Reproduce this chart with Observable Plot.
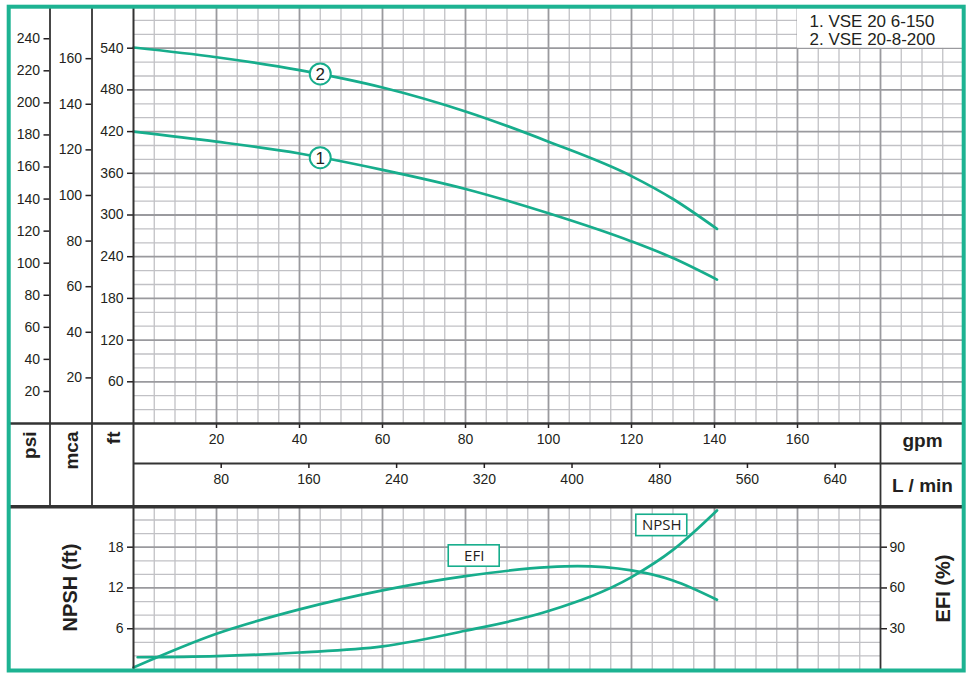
<!DOCTYPE html>
<html><head><meta charset="utf-8">
<script src="https://cdn.jsdelivr.net/npm/d3@7"></script>
<script src="https://cdn.jsdelivr.net/npm/@observablehq/plot@0.6"></script>
<style>
html,body{margin:0;padding:0;background:#fff;}
#chart{position:relative;width:970px;height:677px;overflow:hidden;}
#chart svg{position:absolute;left:0;top:0;}
</style></head><body><div id="chart"></div>
<script>
// ---------------- data ----------------
const flowGpm = [0, 20, 40, 60, 80, 100, 120, 130, 140.6];
const head1Ft = [420, 405.5, 388.5, 365, 337.5, 302.5, 262, 238, 207];
const head2Ft = [541, 527, 508.5, 483.5, 449, 405.5, 356, 323, 280];
const effGpm = [0, 20, 40, 60, 80, 100, 107, 120, 130, 140.6];
const effPct = [1.5, 26.3, 44.2, 58.2, 68.7, 75.3, 76, 72.9, 65.5, 51.3];
const npshGpm = [1, 20, 40, 60, 80, 100, 120, 130, 140.6];
const npshFt = [1.8, 1.97, 2.5, 3.4, 5.7, 8.6, 13.6, 17.6, 23.4];
const models = ["1. VSE 20 6-150", "2. VSE 20-8-200"];
const curveTags = ["1", "2"];
const tagGpm = [45, 45];
const tagFt = [382.5, 503];
const boxLabels = ["EFI", "NPSH"];
const boxGpm = [82.1, 127.3];
const boxVal = [83.5, 21.2]; // EFI in %, NPSH in ft
const ftTicks = [60, 120, 180, 240, 300, 360, 420, 480, 540];
const psiTicks = [20, 40, 60, 80, 100, 120, 140, 160, 180, 200, 220, 240];
const mcaTicks = [20, 40, 60, 80, 100, 120, 140, 160];
const gpmTicks = [20, 40, 60, 80, 100, 120, 140, 160];
const lminTicks = [80, 160, 240, 320, 400, 480, 560, 640];
const npshTicks = [6, 12, 18];
const efiTicks = [30, 60, 90];
const unitLabels = ["psi", "mca", "ft"];

// unit conversions
const FT_PER_PSI = 2.30666, FT_PER_M = 3.28084, LPM_PER_GPM = 3.78541, EFI_PER_FT = 5;
const GPM_MAX = 200, GPM_LOW = 180, FT_MAX = 600, NPSH_MAX = 23.84;

// ---------------- styling ----------------
const GREEN = "#17ad8c", BORDER = "#1db392", INK = "#231f20";
const MINOR = "#c1c1c5", MAJOR = "#9a9a9e";
const W = 970, H = 677;
const font = "'Liberation Sans', Arial, sans-serif";
const CURVE = "monotone-x";
const chart = document.getElementById("chart");
function add(svg){ svg.style.background = "transparent"; svg.style.position = "absolute"; svg.style.left = "0"; svg.style.top = "0"; chart.appendChild(svg); }
const baseStyle = {fontFamily: font, fontSize: "14px", color: INK, background: "transparent", overflow: "visible"};

const gpmMinor = d3.range(5, GPM_MAX + 1, 5).filter(d => d % 20);
const gpmMajor = d3.range(20, GPM_MAX + 1, 20);
const ftMinor = d3.range(20, FT_MAX + 1, 20).filter(d => d % 60);
const ftMajor = d3.range(60, FT_MAX + 1, 60);
const rows = (xs, ys) => xs.map((x, i) => ({x, y: ys[i]}));

// ---------------- top chart: head (ft) vs flow (gpm) ----------------
add(Plot.plot({
  width: W, height: H, marginLeft: 133, marginRight: 7, marginTop: 6, marginBottom: 254,
  style: baseStyle,
  x: {domain: [0, GPM_MAX], axis: null},
  y: {domain: [0, FT_MAX], axis: null},
  marks: [
    Plot.ruleX(gpmMinor, {y1: 0, y2: FT_MAX, stroke: MINOR, strokeWidth: 1.3}),
    Plot.ruleY(ftMinor, {x1: 0, x2: GPM_MAX, stroke: MINOR, strokeWidth: 1.3}),
    Plot.ruleX(gpmMajor, {y1: 0, y2: FT_MAX, stroke: MAJOR, strokeWidth: 1.8}),
    Plot.ruleY(ftMajor, {x1: 0, x2: GPM_MAX, stroke: MAJOR, strokeWidth: 1.8}),
    Plot.rect([0], {x1: 160, x2: GPM_MAX, y1: 540, y2: FT_MAX, fill: "white"}),
    Plot.text(models, {x: 160, y: [578.5, 552], text: d => d, dx: 12, textAnchor: "start", fontSize: 17, fill: INK}),
    Plot.line(rows(flowGpm, head1Ft), {x: "x", y: "y", stroke: GREEN, strokeWidth: 2.7, curve: CURVE}),
    Plot.line(rows(flowGpm, head2Ft), {x: "x", y: "y", stroke: GREEN, strokeWidth: 2.7, curve: CURVE}),
    Plot.dot(rows(tagGpm, tagFt), {x: "x", y: "y", r: 10.5, fill: "white", stroke: GREEN, strokeWidth: 2}),
    Plot.text(rows(tagGpm, tagFt), {x: "x", y: "y", text: (d, i) => curveTags[i], fontSize: 17, fill: INK, dy: 0.5}),
    Plot.axisY({ticks: ftTicks, anchor: "left", tickSize: 6, tickPadding: 4, label: null, fontSize: 14, strokeWidth: 1.5}),
    Plot.axisX({ticks: gpmTicks, anchor: "bottom", tickSize: 5, tickPadding: 6, label: null, fontSize: 14, strokeWidth: 1.5})
  ]
}));

// psi axis
add(Plot.plot({
  width: W, height: H, marginLeft: 49.5, marginRight: 7, marginTop: 6, marginBottom: 254,
  style: baseStyle,
  y: {domain: [0, FT_MAX / FT_PER_PSI], axis: null},
  marks: [Plot.axisY({ticks: psiTicks, anchor: "left", tickSize: 6, tickPadding: 4, label: null, fontSize: 14, strokeWidth: 1.5})]
}));

// mca axis
add(Plot.plot({
  width: W, height: H, marginLeft: 91.5, marginRight: 7, marginTop: 6, marginBottom: 254,
  style: baseStyle,
  y: {domain: [0, FT_MAX / FT_PER_M], axis: null},
  marks: [Plot.axisY({ticks: mcaTicks, anchor: "left", tickSize: 6, tickPadding: 4, label: null, fontSize: 14, strokeWidth: 1.5})]
}));

// L/min axis
add(Plot.plot({
  width: W, height: H, marginLeft: 133, marginRight: 7, marginTop: 0, marginBottom: 214,
  style: baseStyle,
  x: {domain: [0, GPM_MAX * LPM_PER_GPM], axis: null},
  y: {domain: [0, 1], axis: null},
  marks: [
    Plot.ruleY([0], {x1: 0, x2: GPM_MAX * LPM_PER_GPM, stroke: "#333", strokeWidth: 2}),
    Plot.axisX({ticks: lminTicks, anchor: "bottom", tickSize: 5, tickPadding: 6, label: null, fontSize: 14, strokeWidth: 1.5})
  ]
}));

// ---------------- bottom chart: NPSH (ft) ----------------
const npMinor = d3.range(2, NPSH_MAX, 2).filter(d => d % 6);
const npMajor = [6, 12, 18];
const gMinorLow = gpmMinor.filter(d => d <= GPM_LOW);
const gMajorLow = gpmMajor.filter(d => d < GPM_LOW);
const bw = 6.14; // half box width in gpm
add(Plot.plot({
  width: W, height: H, marginLeft: 133, marginRight: 90, marginTop: 507, marginBottom: 8,
  style: baseStyle,
  x: {domain: [0, GPM_LOW], axis: null},
  y: {domain: [0, NPSH_MAX], axis: null},
  marks: [
    Plot.ruleX(gMinorLow, {y1: 0, y2: NPSH_MAX, stroke: MINOR, strokeWidth: 1.3}),
    Plot.ruleY(npMinor, {x1: 0, x2: GPM_LOW, stroke: MINOR, strokeWidth: 1.3}),
    Plot.ruleX(gMajorLow, {y1: 0, y2: NPSH_MAX, stroke: MAJOR, strokeWidth: 1.8}),
    Plot.ruleY(npMajor, {x1: 0, x2: GPM_LOW, stroke: MAJOR, strokeWidth: 1.8}),
    Plot.line(rows(npshGpm, npshFt), {x: "x", y: "y", stroke: GREEN, strokeWidth: 2.7, curve: CURVE}),
    Plot.rect([0], {x1: boxGpm[1] - bw, x2: boxGpm[1] + bw, y1: boxVal[1] - 1.575, y2: boxVal[1] + 1.575, fill: "white", stroke: GREEN, strokeWidth: 1.6}),
    Plot.text([boxLabels[1]], {x: boxGpm[1], y: boxVal[1], text: d => d, fontSize: 15, fontFamily: "'Open Sans', sans-serif", fill: INK}),
    Plot.axisY({ticks: npshTicks, anchor: "left", tickSize: 6, tickPadding: 4, label: null, fontSize: 14, strokeWidth: 1.5})
  ]
}));

// EFI (%)
add(Plot.plot({
  width: W, height: H, marginLeft: 133, marginRight: 90, marginTop: 507, marginBottom: 8,
  style: baseStyle,
  x: {domain: [0, GPM_LOW], axis: null},
  y: {domain: [0, NPSH_MAX * EFI_PER_FT], axis: null},
  marks: [
    Plot.line(rows(effGpm, effPct), {x: "x", y: "y", stroke: GREEN, strokeWidth: 2.7, curve: CURVE}),
    Plot.rect([0], {x1: boxGpm[0] - bw, x2: boxGpm[0] + bw, y1: boxVal[0] - 7.87, y2: boxVal[0] + 7.87, fill: "white", stroke: GREEN, strokeWidth: 1.6}),
    Plot.text([boxLabels[0]], {x: boxGpm[0], y: boxVal[0], text: d => d, fontSize: 15, fontFamily: "'Open Sans', sans-serif", fill: INK}),
    Plot.axisY({ticks: efiTicks, anchor: "right", tickSize: 6, tickPadding: 3, label: null, fontSize: 14, strokeWidth: 1.5})
  ]
}));

// ---------------- frame: border, dividers, unit labels ----------------
const F = {left: 8.7, right: 963.7, top: 6.7, bottom: 670.5, psiX: 49.5, mcaX: 91.5, plotX: 133, unitX: 880, gpmY: 423, band: 506.3};
add(Plot.plot({
  width: W, height: H, margin: 0,
  style: baseStyle,
  x: {type: "identity", axis: null},
  y: {type: "identity", axis: null},
  marks: [
    Plot.ruleX([F.psiX, F.mcaX], {y1: F.top, y2: F.band, stroke: "#333", strokeWidth: 1.8}),
    Plot.ruleX([F.plotX], {y1: F.top, y2: F.bottom, stroke: "#333", strokeWidth: 2}),
    Plot.ruleX([F.unitX], {y1: F.gpmY, y2: F.bottom, stroke: "#333", strokeWidth: 1.8}),
    Plot.ruleY([F.gpmY], {x1: F.left, x2: F.right, stroke: "#333", strokeWidth: 2.4}),
    Plot.ruleY([F.band], {x1: F.left, x2: F.right, stroke: "#333", strokeWidth: 3.4}),
    Plot.text(unitLabels, {x: [29.5, 71, 113], y: 431, text: d => d, rotate: -90, textAnchor: "end", fontWeight: "bold", fontSize: 19, fill: INK}),
    Plot.text(["gpm", "L / min"], {x: 922, y: [440, 485], text: d => d, fontWeight: "bold", fontSize: 19, fill: INK}),
    Plot.text(["NPSH (ft)"], {x: 70, y: 587, text: d => d, rotate: -90, fontWeight: "bold", fontSize: 20, fill: INK}),
    Plot.text(["EFI (%)"], {x: 943, y: 588, text: d => d, rotate: -90, fontWeight: "bold", fontSize: 20, fill: INK}),
    Plot.rect([0], {x1: F.left, x2: F.right, y1: F.top, y2: F.bottom, fill: "none", stroke: BORDER, strokeWidth: 4})
  ]
}));
</script></body></html>
